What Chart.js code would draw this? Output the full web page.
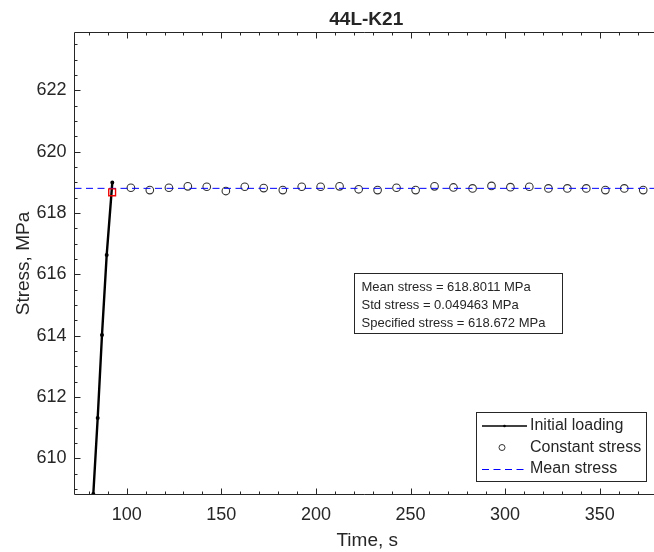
<!DOCTYPE html>
<html>
<head>
<meta charset="utf-8">
<script src="https://cdn.jsdelivr.net/npm/chart.js@4/dist/chart.umd.min.js"></script>
<style>
html,body{margin:0;padding:0;background:#ffffff;}
#wrap{width:654px;height:552px;position:relative;}
</style>
</head>
<body>
<div id="wrap"><canvas id="c" width="654" height="552"></canvas></div>
<script>
// ---------- data ----------
const chartTitle = '44L-K21';
const xAxisTitle = 'Time, s';
const yAxisTitle = 'Stress, MPa';
const xLimits = [72.4, 378.7];
const yLimits = [608.8, 623.9];
const xTickValues = [100, 150, 200, 250, 300, 350];
const yTickValues = [610, 612, 614, 616, 618, 620, 622];
const xMinorStep = 10;
const yMinorStep = 0.5;

const loadingTime   = [82.2, 82.34, 84.66, 86.93, 89.42, 92.38];
const loadingStress = [608.6, 608.83, 611.31, 614.02, 616.63, 618.99];

const holdTime = [102.2, 112.2, 122.3, 132.3, 142.3, 152.4, 162.4, 172.4, 182.5, 192.5,
                  202.5, 212.5, 222.6, 232.6, 242.6, 252.7, 262.7, 272.7, 282.8, 292.8,
                  302.8, 312.8, 322.9, 332.9, 342.9, 353.0, 363.0, 373.0];
const holdStress = [618.82, 618.745, 618.82, 618.866, 618.853, 618.713, 618.853, 618.81, 618.745, 618.853,
                    618.853, 618.866, 618.77, 618.745, 618.82, 618.745, 618.866, 618.83, 618.80, 618.88,
                    618.84, 618.853, 618.80, 618.80, 618.80, 618.745, 618.80, 618.745];

const specifiedTime = [92.3];
const specifiedStress = [618.672];
const meanStress = 618.8011;

const annotationLines = ['Mean stress = 618.8011 MPa', 'Std stress = 0.049463 MPa', 'Specified stress = 618.672 MPa'];
const legendLabels = ['Initial loading', 'Constant stress', 'Mean stress'];

// ---------- chart ----------
const TXT = '#262626';
const FONT = '"Liberation Sans", Arial, Helvetica, sans-serif';

function pts(xs, ys) { return xs.map((x, i) => ({ x: x, y: ys[i] })); }

const matlabPlugin = {
  id: 'matlab',
  afterDatasetsDraw(chart) {
    const ctx = chart.ctx, a = chart.chartArea;
    const xs = chart.scales.x, ys = chart.scales.y;
    ctx.save();
    ctx.strokeStyle = TXT;
    ctx.lineWidth = 1;
    const L = Math.floor(a.left) + 0.5, T = Math.round(a.top) + 0.5, B = Math.round(a.bottom) - 0.5;
    ctx.beginPath();
    ctx.moveTo(L, T); ctx.lineTo(a.right, T);
    ctx.moveTo(L, B); ctx.lineTo(a.right, B);
    ctx.moveTo(L, T); ctx.lineTo(L, B);
    ctx.stroke();
    const maj = 6, mnr = 3;
    ctx.beginPath();
    for (let v = Math.ceil(xLimits[0] / xMinorStep) * xMinorStep; v <= xLimits[1]; v += xMinorStep) {
      const p = Math.round(xs.getPixelForValue(v)) + 0.5;
      const len = xTickValues.includes(v) ? maj : mnr;
      ctx.moveTo(p, B); ctx.lineTo(p, B - len);
      ctx.moveTo(p, T); ctx.lineTo(p, T + len);
    }
    for (let k = Math.ceil(yLimits[0] / yMinorStep); k * yMinorStep <= yLimits[1]; k++) {
      const v = k * yMinorStep;
      const p = Math.round(ys.getPixelForValue(v)) + 0.5;
      const len = yTickValues.includes(v) ? maj : mnr;
      ctx.moveTo(L, p); ctx.lineTo(L + len, p);
    }
    ctx.stroke();
    ctx.restore();
  },
  afterDraw(chart) {
    const ctx = chart.ctx, a = chart.chartArea;
    const cx = (a.left + a.right) / 2, cy = (a.top + a.bottom) / 2;
    ctx.save();
    ctx.fillStyle = TXT;
    ctx.font = 'bold 19px ' + FONT;
    ctx.textAlign = 'center';
    ctx.textBaseline = 'alphabetic';
    ctx.fillText(chartTitle, cx + 2, 25);
    ctx.font = '19px ' + FONT;
    ctx.fillText(xAxisTitle, cx + 3, 546);
    ctx.save();
    ctx.translate(29, cy);
    ctx.rotate(-Math.PI / 2);
    ctx.fillText(yAxisTitle, 0, 0);
    ctx.restore();

    // annotation box
    ctx.fillStyle = '#ffffff';
    ctx.fillRect(354.5, 273.5, 208, 60);
    ctx.strokeStyle = TXT;
    ctx.lineWidth = 1;
    ctx.strokeRect(354.5, 273.5, 208, 60);
    ctx.fillStyle = TXT;
    ctx.font = '13px ' + FONT;
    ctx.textAlign = 'left';
    ctx.textBaseline = 'middle';
    const annY = [287.5, 305.5, 323.5];
    annotationLines.forEach((t, i) => ctx.fillText(t, 361.5, annY[i]));

    // legend box
    ctx.fillStyle = '#ffffff';
    ctx.fillRect(476.5, 412.5, 170, 69);
    ctx.strokeStyle = TXT;
    ctx.strokeRect(476.5, 412.5, 170, 69);
    const rows = [426, 447.5, 469];
    ctx.strokeStyle = '#000000';
    ctx.lineWidth = 1.3;
    ctx.beginPath(); ctx.moveTo(482, rows[0]); ctx.lineTo(527, rows[0]); ctx.stroke();
    ctx.fillStyle = '#000000';
    ctx.beginPath(); ctx.arc(504.5, rows[0], 1.3, 0, Math.PI * 2); ctx.fill();
    ctx.strokeStyle = '#333333';
    ctx.lineWidth = 1;
    ctx.beginPath(); ctx.arc(502, rows[1], 3, 0, Math.PI * 2); ctx.stroke();
    ctx.strokeStyle = '#0000ff';
    ctx.setLineDash([7, 4.5]);
    ctx.beginPath(); ctx.moveTo(482, rows[2] + 0.5); ctx.lineTo(527, rows[2] + 0.5); ctx.stroke();
    ctx.setLineDash([]);
    ctx.fillStyle = TXT;
    ctx.font = '16px ' + FONT;
    ctx.textAlign = 'left';
    ctx.textBaseline = 'middle';
    legendLabels.forEach((t, i) => ctx.fillText(t, 530, rows[i]));
    ctx.restore();
  }
};

new Chart(document.getElementById('c'), {
  type: 'scatter',
  data: {
    datasets: [
      {
        label: legendLabels[0],
        type: 'line',
        data: pts(loadingTime, loadingStress),
        borderColor: '#000000',
        backgroundColor: '#000000',
        borderWidth: 2.4,
        pointRadius: 0.8,
        pointStyle: 'circle',
        tension: 0,
        order: 4
      },
      {
        label: legendLabels[1],
        data: pts(holdTime, holdStress),
        pointStyle: 'circle',
        pointRadius: 3.8,
        borderColor: '#333333',
        borderWidth: 1.1,
        backgroundColor: 'rgba(0,0,0,0)',
        order: 3
      },
      {
        label: legendLabels[2],
        type: 'line',
        data: [{ x: xLimits[0], y: meanStress }, { x: xLimits[1], y: meanStress }],
        borderColor: '#0000ff',
        borderWidth: 1,
        borderDash: [7, 4.5],
        pointRadius: 0,
        order: 2
      },
      {
        label: 'Specified stress',
        data: pts(specifiedTime, specifiedStress),
        pointStyle: 'rect',
        pointRadius: 4.8,
        borderColor: '#ee0000',
        borderWidth: 1.4,
        backgroundColor: 'rgba(0,0,0,0)',
        order: 1
      }
    ]
  },
  options: {
    responsive: false,
    animation: false,
    devicePixelRatio: 1,
    layout: { autoPadding: false, padding: { top: 32, left: 0, right: 0, bottom: 0 } },
    plugins: { legend: { display: false }, tooltip: { enabled: false }, title: { display: false } },
    scales: {
      x: {
        type: 'linear',
        position: 'bottom',
        min: xLimits[0],
        max: xLimits[1],
        grid: { display: false, drawTicks: false, tickLength: 0 },
        border: { display: false },
        ticks: { font: { family: FONT, size: 18 }, color: TXT, padding: 9, maxRotation: 0, autoSkip: false },
        afterBuildTicks: s => { s.ticks = xTickValues.map(v => ({ value: v })); },
        afterFit: s => { s.height = 57; s.paddingLeft = 0; s.paddingRight = 0; }
      },
      y: {
        type: 'linear',
        position: 'left',
        min: yLimits[0],
        max: yLimits[1],
        grid: { display: false, drawTicks: false, tickLength: 0 },
        border: { display: false },
        ticks: { font: { family: FONT, size: 18 }, color: TXT, padding: 8, autoSkip: false },
        afterBuildTicks: s => { s.ticks = yTickValues.map(v => ({ value: v })); },
        afterFit: s => { s.width = 74.5; s.paddingTop = 0; s.paddingBottom = 0; }
      }
    }
  },
  plugins: [matlabPlugin]
});
</script>
</body>
</html>
